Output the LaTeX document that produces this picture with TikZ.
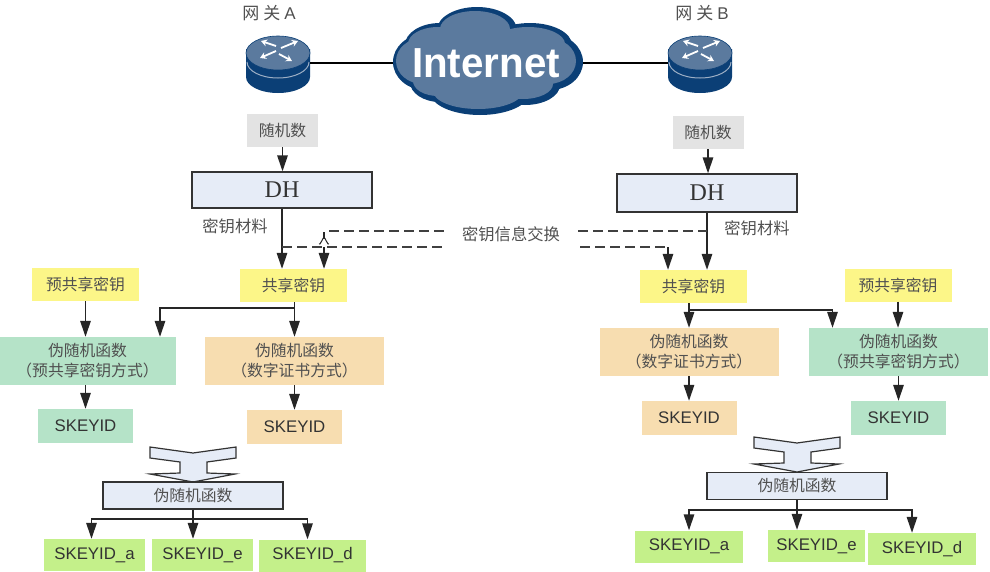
\documentclass[tikz,border=0pt]{standalone}
\usepackage{fontspec}
\setmainfont{Liberation Sans}
\newfontfamily\cjk{Noto Sans CJK SC}
\newfontfamily\serifdh{Liberation Serif}
\usetikzlibrary{arrows.meta,calc}
\definecolor{grybox}{HTML}{E3E3E3}
\definecolor{dhfill}{HTML}{E6ECF7}
\definecolor{ylw}{HTML}{FCF688}
\definecolor{grn}{HTML}{B5E3C8}
\definecolor{org}{HTML}{F7DDB0}
\definecolor{lime}{HTML}{C4F08A}
\definecolor{txt}{HTML}{505050}
\definecolor{navy}{HTML}{0B3F76}
\definecolor{steel}{HTML}{5B7A9E}
\definecolor{edge}{HTML}{333333}
\tikzset{
  x=1pt,y=-1pt,
  box/.style n args={3}{minimum width=#1pt,minimum height=#2pt,fill=#3,inner sep=0pt,align=center,text=txt,font=\cjk\fontsize{15.8}{20}\selectfont},
  randbox/.style={box={71}{33}{grybox}},
  keybox/.style={box={107}{33}{ylw}},
  dhbox/.style={box={180}{36}{dhfill},draw=edge,line width=1.4pt,text=edge,font=\serifdh\fontsize{24}{26}\selectfont},
  prfsmall/.style={box={180}{27}{dhfill},draw=edge,line width=1.4pt},
  prfgreen/.style={box={177}{48}{grn}},
  prforange/.style={box={179}{48}{org}},
  sidgreen/.style={box={95}{34}{grn},text=edge,font=\fontsize{16.8}{18}\selectfont},
  sidorange/.style={box={95}{34}{org},text=edge,font=\fontsize{16.8}{18}\selectfont},
  sidlime/.style={box={#1}{32}{lime},text=edge,font=\fontsize{16.8}{18}\selectfont},
  lbl/.style={text=txt,inner sep=0pt,font=\cjk\fontsize{16.3}{18}\selectfont},
  gwlbl/.style={text=txt,inner sep=0pt,font=\cjk\fontsize{17}{20}\selectfont},
  gwbox/.style={minimum width=64pt,minimum height=58pt,inner sep=0pt},
  arr/.style={draw=black!85,line width=1.5pt,-{Triangle[length=16pt,width=10.5pt]}},
  link/.style={draw=black!85,line width=1.5pt},
  dashline/.style={draw=black!75,line width=1.5pt,dash pattern=on 10pt off 5pt},
  wire/.style={draw=black,line width=2pt},
  blockarrow/.style={fill=dhfill,draw=edge,line width=1.2pt,line join=miter}
}
\newcommand{\routericon}[1]{%
  \begin{scope}[shift={(#1)}]
    \fill[navy] (-32,-6) -- (-32,22) arc[x radius=32,y radius=16,start angle=180,end angle=0] -- (32,-6) -- cycle;
    \draw[steel!60,line width=1pt] (-31,7) arc[x radius=31,y radius=16,start angle=180,end angle=0];
    \fill[steel,draw=navy,line width=.6pt] (0,-2) ellipse[x radius=32,y radius=17];
    \foreach \a/\b/\c/\d in {-17/-14/-2/-9,20/-14/3/-7,-18/3/-2/-4,14/6/1/-1}{
      \draw[white,line width=1.8pt,-{Stealth[length=6pt,width=7pt]}] (\c,\d) -- (\a,\b);
    }
  \end{scope}}
\newcommand{\blockarrowicon}[1]{%
  \draw[blockarrow,shift={(#1)}] (-43,-17) -- (0,-11) -- (43,-17) -- (43,-6) -- (14,-2) -- (14,9) -- (42,10) -- (0,18) -- (-43,10) -- (-13,9) -- (-13,-2) -- (-43,-6) -- cycle;}
\begin{document}
\begin{tikzpicture}
\useasboundingbox (0,0) rectangle (990,571);
% top row
\node[gwlbl] (lblA) at (269,13) {网\hspace{4pt}关\hspace{4pt}{\fontspec{Liberation Sans}A}};
\node[gwlbl] (lblB) at (702,13) {网\hspace{4pt}关\hspace{4pt}{\fontspec{Liberation Sans}B}};
\node[gwbox] (gwA) at (278,63) {};
\node[gwbox] (gwB) at (700,63) {};
\routericon{278,55}
\routericon{700,55}
% cloud
\foreach \cx/\cy/\rx/\ry in {488/62/92/30,425/62/32/28,550/62/33/28,440/45/35/22,477/30/40/23,530/45/42/22,480/92/50/23,440/82/30/20,525/85/35/20}{
  \fill[navy] (\cx,\cy) ellipse[x radius=\rx,y radius=\ry];
}
\foreach \cx/\cy/\rx/\ry in {488/62/92/30,425/62/32/28,550/62/33/28,440/45/35/22,477/30/40/23,530/45/42/22,480/92/50/23,440/82/30/20,525/85/35/20}{
  \fill[steel] (\cx-2,\cy-1) ellipse[x radius=\rx-5,y radius=\ry-5];
}
\node[minimum width=190pt,minimum height=60pt,inner sep=0pt,text=white,font=\bfseries\fontsize{42}{46}\selectfont] (cloud) at (488,63) {\hspace{-4pt}\scalebox{.96}[1]{Internet}};
\draw[wire] (gwA.east) -- (cloud.west);
\draw[wire] (cloud.east) -- (gwB.west);
% left column
\node[randbox] (randA) at (282.5,130.5) {随机数};
\node[dhbox] (dhA) at (282,190) {DH};
\node[lbl] (matA) at (235,226) {密钥材料};
\node[keybox] (shareA) at (293.5,285.5) {共享密钥};
\node[keybox] (preA) at (85.5,284.5) {预共享密钥};
\node[prfgreen] (greenA) at (87.5,361) {伪随机函数\\（预共享密钥方式）};
\node[prforange] (orangeA) at (294.5,361) {伪随机函数\\（数字证书方式）};
\node[sidgreen] (sidgA) at (85.5,426) {SKEYID};
\node[sidorange] (sidoA) at (294.5,427) {SKEYID};
\blockarrowicon{193,464}
\node[prfsmall] (prfA) at (193,495.5) {伪随机函数};
\node[sidlime=101] (aA) at (94.5,555) {SKEYID\_a};
\node[sidlime=101] (eA) at (202.5,555) {SKEYID\_e};
\node[sidlime=107] (dA) at (312.5,555.5) {SKEYID\_d};
% right column
\node[randbox] (randB) at (708,132.5) {随机数};
\node[dhbox,minimum height=38pt] (dhB) at (707,193) {DH};
\node[lbl] (matB) at (757,228) {密钥材料};
\node[keybox] (shareB) at (693.5,286.5) {共享密钥};
\node[keybox] (preB) at (898,285) {预共享密钥};
\node[prforange] (orangeB) at (689,352) {伪随机函数\\（数字证书方式）};
\node[prfgreen,minimum width=179pt] (greenB) at (898.5,352) {伪随机函数\\（预共享密钥方式）};
\node[sidorange] (sidoB) at (689,418) {SKEYID};
\node[sidgreen] (sidgB) at (898.5,418) {SKEYID};
\blockarrowicon{797,454}
\node[prfsmall] (prfB) at (797,486) {伪随机函数};
\node[sidlime=108] (aB) at (689,546.5) {SKEYID\_a};
\node[sidlime=97] (eB) at (816.5,546) {SKEYID\_e};
\node[sidlime=108] (dB) at (922,549) {SKEYID\_d};
% exchange label
\node[lbl] (xchg) at (511,234) {密钥信息交换};
% connectors left
\draw[arr] (randA) -- (dhA.north -| randA);
\draw[arr] (dhA.south) -- (dhA.south |- shareA.north);
\coordinate (dA1) at (dhA.south |- 0,247);
\coordinate (dA2) at (324,247);
\coordinate (dA3) at (329,231);
\coordinate (dB1) at (dhB.south |- 0,231);
\coordinate (dB2) at (668,247);
\draw[dashline] (dA1) -- ([xshift=-18pt]xchg.west |- dA1);
\draw[dashline] (dA3) -- ([xshift=-17pt]xchg.west |- dA3);
\draw[link,line width=1.1pt] (324,232) -- (324,239);
\draw[link,line width=1pt] (319,244) to[out=-80,in=90] (324,238) to[out=90,in=-100] (329,244);
\draw[arr,dash pattern=on 7pt off 3pt] (dA2) -- (dA2 |- shareA.north);
\draw[arr] (preA) -- (preA |- greenA.north);
\draw[arr] (orangeA.north |- shareA.south) -- (orangeA.north);
\draw[arr] (orangeA.north |- shareA.south) -- ++(0,6) -| ([xshift=72.5pt]greenA.north);
\draw[arr] (greenA.south -| sidgA) -- (sidgA);
\draw[arr] (orangeA) -- (sidoA);
\draw[arr] (prfA.south) -- (prfA.south |- eA.north);
\draw[arr] (prfA.south) -- ++(0,9.5) -| ([xshift=-3pt]aA.north);
\draw[arr] (prfA.south) -- ++(0,9.5) -| ([xshift=-5pt]dA.north);
% connectors right
\draw[arr] (randB) -- (dhB.north -| randB);
\draw[arr] (dhB.south) -- (dhB.south |- shareB.north);
\draw[dashline] ([xshift=18pt]xchg.east |- dB1) -- (dB1);
\draw[dashline] ([xshift=20pt]xchg.east |- dB2) -- (dB2);
\draw[arr] (dB2) -- (dB2 |- shareB.north);
\draw[arr] (preB) -- (preB |- greenB.north);
\draw[arr] (orangeB.north |- shareB.south) -- (orangeB.north);
\draw[arr] (orangeB.north |- shareB.south) -- ++(0,7) -| ([xshift=-66pt]greenB.north);
\draw[arr] (orangeB) -- (sidoB);
\draw[arr] (greenB) -- (sidgB);
\draw[arr] (prfB.south) -- (prfB.south |- eB.north);
\draw[arr] (prfB.south) -- ++(0,10) -| (aB.north);
\draw[arr] (prfB.south) -- ++(0,10) -| ([xshift=-10pt]dB.north);
\end{tikzpicture}
\end{document}
